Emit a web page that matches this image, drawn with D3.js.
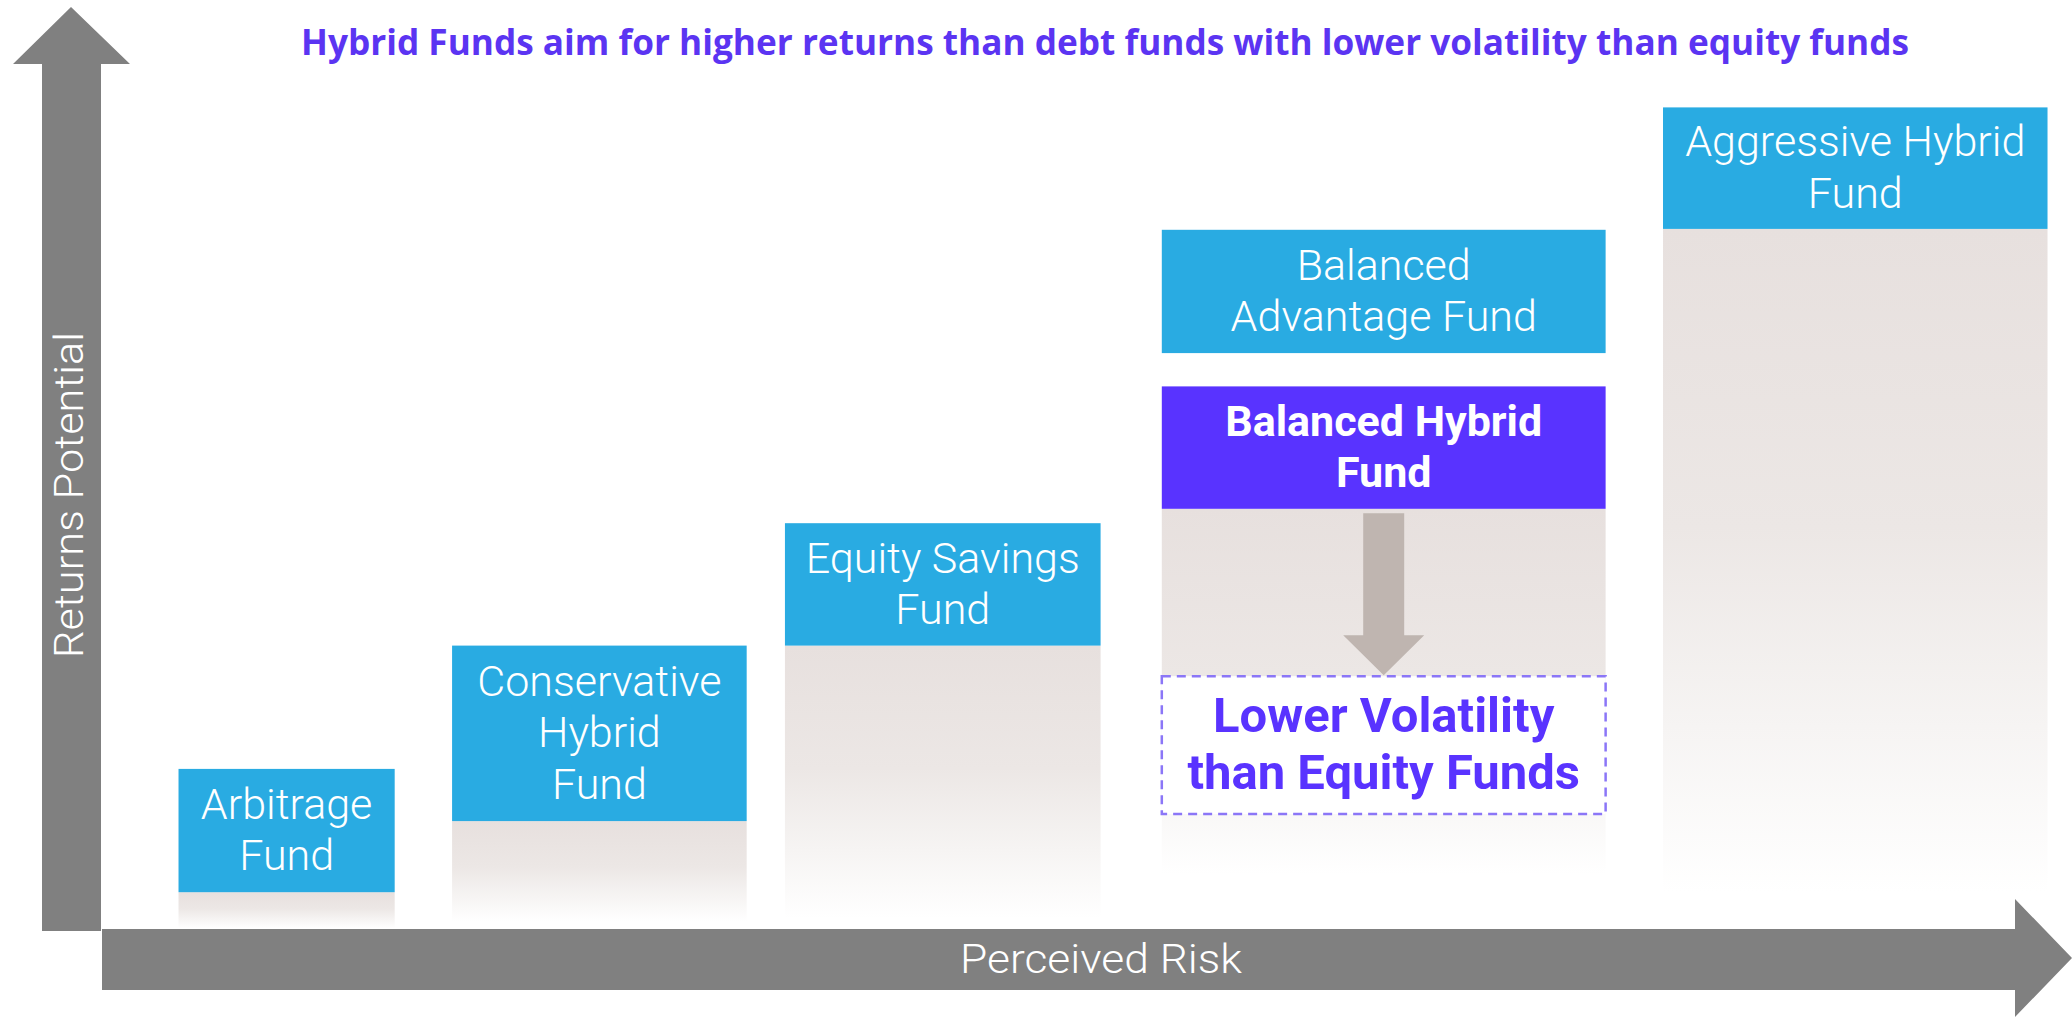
<!DOCTYPE html>
<html>
<head>
<meta charset="utf-8">
<script src="https://cdn.jsdelivr.net/npm/d3@7"></script>
<style>
  html, body { margin: 0; padding: 0; background: #fff; }
  svg { display: block; }
</style>
</head>
<body>
<div id="chart"></div>
<script>
// fund categories, one box each (risk = x, returns potential = y, both on a 0-100 scale)
var fundLabels = [
    ["Arbitrage", "Fund"],
    ["Conservative", "Hybrid", "Fund"],
    ["Equity Savings", "Fund"],
    ["Balanced", "Advantage Fund"],
    ["Balanced Hybrid", "Fund"],
    ["Aggressive Hybrid", "Fund"]
];
var riskFrom   = [4.0, 18.3, 35.7, 55.4, 55.4, 81.6];
var riskTo     = [15.3, 33.7, 52.2, 78.6, 78.6, 101.7];
var returnLow  = [4.2, 12.1, 31.6, 64.1, 46.8, 77.9];
var returnHigh = [17.9, 31.6, 45.2, 77.8, 60.4, 91.4];
var shadowTo   = [0.2, 0.9, 1.3, null, 6.2, 4.1];
var highlight  = [false, false, false, false, true, false];

var titleText = "Hybrid Funds aim for higher returns than debt funds with lower volatility than equity funds";
var xAxisLabel = "Perceived Risk";
var yAxisLabel = "Returns Potential";

// callout under the Balanced Hybrid Fund
var calloutLines = ["Lower Volatility", "than Equity Funds"];
var calloutLow = 12.9, calloutHigh = 28.2;
var calloutArrowFrom = 46.3, calloutArrowTo = 28.3;

var width = 2072, height = 1017;
var BLUE = "#29abe2", PURPLE = "#5933ff", GREY = "#808080";

var svg = d3.select("#chart").append("svg")
    .attr("width", width)
    .attr("height", height);

var x = d3.scaleLinear().domain([0, 100]).range([102, 2015]);
var y = d3.scaleLinear().domain([0, 100]).range([930, 30]);

var defs = svg.append("defs");
var grad = defs.append("linearGradient")
    .attr("id", "fade")
    .attr("x1", 0).attr("y1", 0).attr("x2", 0).attr("y2", 1);
grad.append("stop").attr("offset", 0).attr("stop-color", "#e7e0de");
grad.append("stop").attr("offset", 0.45).attr("stop-color", "#ece7e5");
grad.append("stop").attr("offset", 0.75).attr("stop-color", "#f6f4f3");
grad.append("stop").attr("offset", 1).attr("stop-color", "#ffffff");

var funds = fundLabels.map(function (d, i) {
    return {
        lines: d, x0: riskFrom[i], x1: riskTo[i],
        lo: returnLow[i], hi: returnHigh[i],
        shadow: shadowTo[i], hl: highlight[i]
    };
});

// shadows under the boxes
svg.append("g").selectAll("rect")
    .data(funds.filter(function (d) { return d.shadow != null; }))
    .enter().append("rect")
    .attr("x", function (d) { return x(d.x0); })
    .attr("width", function (d) { return x(d.x1) - x(d.x0); })
    .attr("y", function (d) { return y(d.lo); })
    .attr("height", function (d) { return y(d.shadow) - y(d.lo); })
    .attr("fill", "url(#fade)");

// down arrow from Balanced Hybrid to callout
var ax = x((riskFrom[4] + riskTo[4]) / 2);
var aTop = y(calloutArrowFrom), aTip = y(calloutArrowTo);
svg.append("path")
    .attr("d", "M" + (ax - 20.5) + "," + aTop +
        "L" + (ax + 20.5) + "," + aTop +
        "L" + (ax + 20.5) + "," + (aTip - 40) +
        "L" + (ax + 40.5) + "," + (aTip - 40) +
        "L" + ax + "," + aTip +
        "L" + (ax - 40.5) + "," + (aTip - 40) +
        "L" + (ax - 20.5) + "," + (aTip - 40) + "Z")
    .attr("fill", "#bfb5b0");

// callout box
svg.append("rect")
    .attr("x", x(riskFrom[4]))
    .attr("y", y(calloutHigh))
    .attr("width", x(riskTo[4]) - x(riskFrom[4]))
    .attr("height", y(calloutLow) - y(calloutHigh))
    .attr("fill", "#fff")
    .attr("stroke", "#8b76f7")
    .attr("stroke-width", 2.5)
    .attr("stroke-dasharray", "9,6");

var cmid = (y(calloutLow) + y(calloutHigh)) / 2;
svg.append("g").selectAll("text")
    .data(calloutLines)
    .enter().append("text")
    .attr("x", ax)
    .attr("y", function (d, i) { return cmid + (i - 0.5) * 57 + 15; })
    .attr("text-anchor", "middle")
    .attr("font-family", "Roboto, sans-serif")
    .attr("font-weight", 700)
    .attr("font-size", 49)
    .attr("fill", PURPLE)
    .text(function (d) { return d; });

// fund boxes
var box = svg.append("g").selectAll("g")
    .data(funds)
    .enter().append("g");

box.append("rect")
    .attr("x", function (d) { return x(d.x0); })
    .attr("width", function (d) { return x(d.x1) - x(d.x0); })
    .attr("y", function (d) { return y(d.hi); })
    .attr("height", function (d) { return y(d.lo) - y(d.hi); })
    .attr("fill", function (d) { return d.hl ? PURPLE : BLUE; });

box.each(function (d) {
    var cx = (x(d.x0) + x(d.x1)) / 2;
    var cy = (y(d.lo) + y(d.hi)) / 2;
    var n = d.lines.length;
    d3.select(this).selectAll("text")
        .data(d.lines)
        .enter().append("text")
        .attr("x", cx)
        .attr("y", function (t, i) { return cy + (i - (n - 1) / 2) * 51.5 + 14; })
        .attr("text-anchor", "middle")
        .attr("font-family", "Roboto, sans-serif")
        .attr("font-weight", d.hl ? 700 : 300)
        .attr("font-size", 43)
        .attr("fill", "#fff")
        .text(function (t) { return t; });
});

// vertical axis arrow (returns potential)
svg.append("path")
    .attr("d", "M42,931 L42,64 L13,64 L71,7 L130,64 L101,64 L101,931 Z")
    .attr("fill", GREY);

svg.append("text")
    .attr("transform", "translate(83,495) rotate(-90)")
    .attr("text-anchor", "middle")
    .attr("font-family", "Roboto, sans-serif")
    .attr("font-weight", 300)
    .attr("font-size", 40)
    .attr("fill", "#fff")
    .attr("textLength", 326)
    .attr("lengthAdjust", "spacingAndGlyphs")
    .text(yAxisLabel);

// horizontal axis arrow (perceived risk)
svg.append("path")
    .attr("d", "M" + x(0) + ",929 L" + x(100) + ",929 L" + x(100) + ",899 L2072,958 L" +
        x(100) + ",1017 L" + x(100) + ",990 L" + x(0) + ",990 Z")
    .attr("fill", GREY);

svg.append("text")
    .attr("x", 1101)
    .attr("y", 973)
    .attr("text-anchor", "middle")
    .attr("font-family", "Roboto, sans-serif")
    .attr("font-weight", 300)
    .attr("font-size", 40)
    .attr("fill", "#fff")
    .attr("textLength", 282)
    .attr("lengthAdjust", "spacingAndGlyphs")
    .text(xAxisLabel);

// title
svg.append("text")
    .attr("x", 1105)
    .attr("y", 55)
    .attr("text-anchor", "middle")
    .attr("font-family", "'Open Sans', sans-serif")
    .attr("font-weight", 700)
    .attr("font-size", 36)
    .attr("fill", "#5b34f2")
    .attr("textLength", 1608)
    .attr("lengthAdjust", "spacingAndGlyphs")
    .text(titleText);
</script>
</body>
</html>
